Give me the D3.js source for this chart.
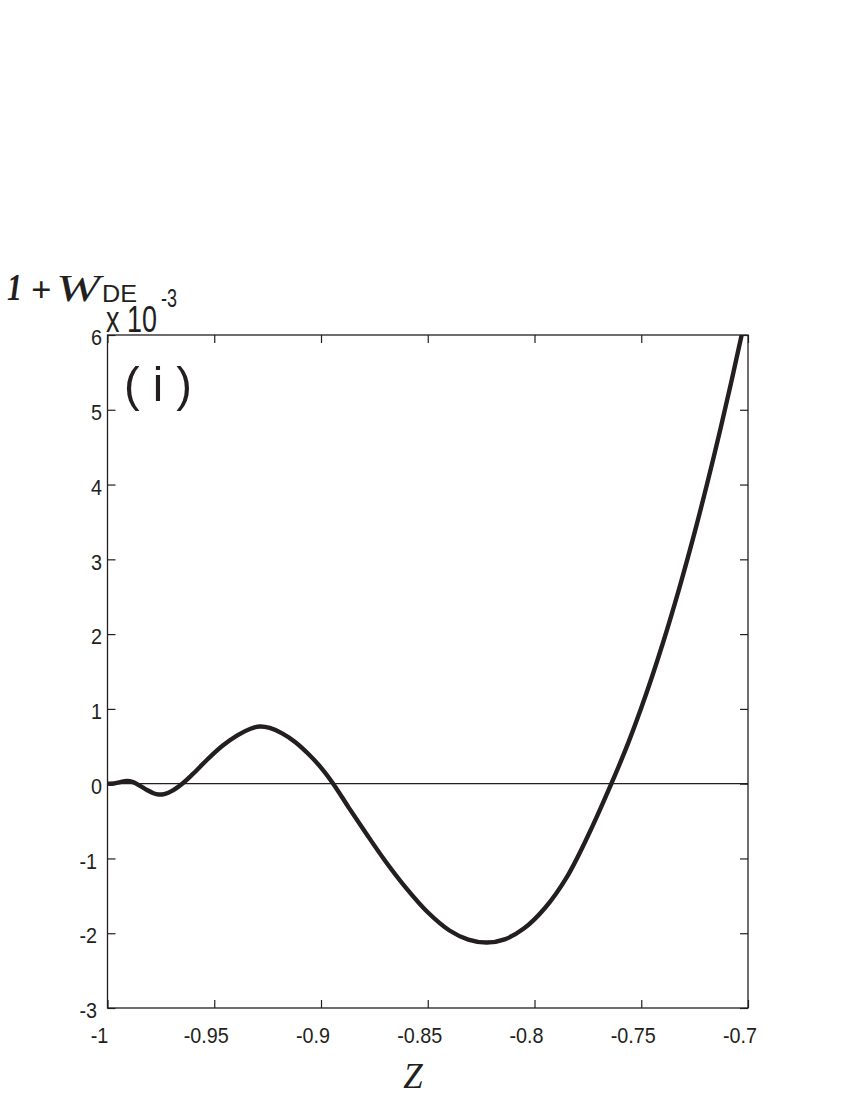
<!DOCTYPE html>
<html>
<head>
<meta charset="utf-8">
<script src="https://cdn.jsdelivr.net/npm/d3@7"></script>
<style>
  html, body { margin: 0; padding: 0; background: #fff; }
  svg { display: block; }
</style>
</head>
<body>
<svg id="chart" width="850" height="1100"></svg>
<script>
// ---- data ----
const zValues = [-1.000, -0.9970, -0.9940, -0.9910, -0.9880, -0.9850, -0.9815, -0.9785, -0.9760,
  -0.9730, -0.9700, -0.9650, -0.9600, -0.9530, -0.9460, -0.9390, -0.9330, -0.9286, -0.9240,
  -0.9180, -0.9120, -0.9060, -0.9000, -0.8943, -0.8870, -0.8790, -0.8700, -0.8600, -0.8500,
  -0.8400, -0.8310, -0.8223, -0.8140, -0.8050, -0.7950, -0.7850, -0.7750, -0.7640, -0.7560,
  -0.7480, -0.7400, -0.7320, -0.7240, -0.7160, -0.7080, -0.7030, -0.7015];
const wValues = [0.000, 0.002, 0.020, 0.036, 0.020, -0.025, -0.085, -0.128, -0.145,
  -0.135, -0.100, 0.000, 0.130, 0.330, 0.510, 0.650, 0.735, 0.765, 0.745,
  0.670, 0.555, 0.400, 0.215, 0.000, -0.320, -0.660, -1.030, -1.400, -1.720,
  -1.960, -2.085, -2.125, -2.082, -1.938, -1.659, -1.256, -0.700, 0.000, 0.552,
  1.175, 1.868, 2.633, 3.468, 4.374, 5.351, 5.997, 6.196];
const xTicks = [-1, -0.95, -0.9, -0.85, -0.8, -0.75, -0.7];
const xTickLabels = ["-1", "-0.95", "-0.9", "-0.85", "-0.8", "-0.75", "-0.7"];
const yTicks = [-3, -2, -1, 0, 1, 2, 3, 4, 5, 6];
const yTickLabels = ["-3", "-2", "-1", "0", "1", "2", "3", "4", "5", "6"];
const panelLabel = "( i )";
const xLabel = "Z";
const exponentLabel = "-3";

// ---- layout ----
const pLeft = 107.5, pRight = 748, pTop = 335, pBottom = 1008;
const ink = "#231f20";

const svg = d3.select("#chart");
const x = d3.scaleLinear().domain([-1, -0.7]).range([pLeft, pRight]);
const y = d3.scaleLinear().domain([-3, 6]).range([pBottom, pTop]);

const tickFont = "'Liberation Sans', Arial, Helvetica, sans-serif";

// clip
svg.append("defs").append("clipPath").attr("id", "clip")
  .append("rect").attr("x", pLeft).attr("y", pTop).attr("width", pRight - pLeft).attr("height", pBottom - pTop);

// zero line
svg.append("line")
  .attr("x1", pLeft).attr("x2", pRight)
  .attr("y1", y(0)).attr("y2", y(0))
  .attr("stroke", ink).attr("stroke-width", 1.1);

// curve
const data = zValues.map((z, i) => ({ z: z, w: wValues[i] }));
const line = d3.line().x(d => x(d.z)).y(d => y(d.w)).curve(d3.curveCatmullRom.alpha(0.5));
svg.append("path")
  .datum(data)
  .attr("clip-path", "url(#clip)")
  .attr("d", line)
  .attr("fill", "none")
  .attr("stroke", ink)
  .attr("stroke-width", 4.4)
  .attr("stroke-linejoin", "round")
  .attr("stroke-linecap", "round");

// axes
function styleAxis(g, hideLabels) {
  g.select(".domain").remove();
  g.selectAll(".tick line").attr("stroke", ink).attr("stroke-width", 1.2);
  if (hideLabels) g.selectAll(".tick text").remove();
}

const gx = svg.append("g").attr("transform", `translate(0,${pBottom})`)
  .call(d3.axisBottom(x).tickValues(xTicks)
    .tickFormat((d, i) => xTickLabels[i]).tickSizeInner(-8).tickSizeOuter(0).tickPadding(19));
styleAxis(gx, false);
gx.selectAll(".tick text")
  .attr("font-family", tickFont).attr("font-size", 22).attr("fill", ink)
  .attr("transform", "translate(-8.5,0) scale(0.9,1)");

const gy = svg.append("g").attr("transform", `translate(${pLeft},0)`)
  .call(d3.axisLeft(y).tickValues(yTicks)
    .tickFormat((d, i) => yTickLabels[i]).tickSizeInner(-8).tickSizeOuter(0).tickPadding(6));
styleAxis(gy, false);
gy.selectAll(".tick text")
  .attr("font-family", tickFont).attr("font-size", 22).attr("fill", ink)
  .attr("dy", "0.44em")
  .attr("transform", d => d < 0 ? "translate(-5,0) scale(0.9,1)" : "scale(0.9,1)");

const gt = svg.append("g").attr("transform", `translate(0,${pTop})`)
  .call(d3.axisTop(x).tickValues(xTicks).tickSizeInner(-8).tickSizeOuter(0));
styleAxis(gt, true);

const gr = svg.append("g").attr("transform", `translate(${pRight},0)`)
  .call(d3.axisRight(y).tickValues(yTicks).tickSizeInner(-8).tickSizeOuter(0));
styleAxis(gr, true);

// box
svg.append("rect")
  .attr("x", pLeft).attr("y", pTop)
  .attr("width", pRight - pLeft).attr("height", pBottom - pTop)
  .attr("fill", "none").attr("stroke", ink).attr("stroke-width", 1.3);

// exponent "x 10^-3"
svg.append("text")
  .attr("x", 106).attr("y", 332)
  .attr("font-family", tickFont).attr("font-size", 36).attr("fill", ink)
  .attr("textLength", 51).attr("lengthAdjust", "spacingAndGlyphs")
  .text("x 10");
svg.append("text")
  .attr("x", 161).attr("y", 307)
  .attr("font-family", tickFont).attr("font-size", 25).attr("fill", ink)
  .attr("textLength", 16).attr("lengthAdjust", "spacingAndGlyphs")
  .text(exponentLabel);

// y-axis title "1 + w_DE"
const serif = "'Liberation Serif', 'Times New Roman', serif";
svg.append("text")
  .attr("x", 7).attr("y", 300)
  .attr("font-family", serif).attr("font-style", "italic").attr("font-weight", "bold")
  .attr("font-size", 37).attr("fill", ink)
  .attr("textLength", 15).attr("lengthAdjust", "spacingAndGlyphs")
  .text("1");
svg.append("text")
  .attr("x", 31).attr("y", 302)
  .attr("font-family", serif).attr("font-weight", "bold")
  .attr("font-size", 36).attr("fill", ink)
  .text("+");
svg.append("text")
  .attr("x", 56).attr("y", 301)
  .attr("font-family", serif).attr("font-style", "italic")
  .attr("font-size", 38).attr("fill", ink)
  .attr("textLength", 44).attr("lengthAdjust", "spacingAndGlyphs")
  .text("W");
svg.append("text")
  .attr("x", 102).attr("y", 302)
  .attr("font-family", tickFont).attr("font-size", 24).attr("fill", ink)
  .attr("textLength", 35).attr("lengthAdjust", "spacingAndGlyphs")
  .text("DE");

// panel label
svg.append("text")
  .attr("x", 124).attr("y", 401)
  .attr("font-family", tickFont).attr("font-size", 49).attr("fill", ink)
  .attr("textLength", 68).attr("lengthAdjust", "spacingAndGlyphs")
  .text(panelLabel);

// x-axis title
svg.append("text")
  .attr("x", 413).attr("y", 1088)
  .attr("text-anchor", "middle")
  .attr("font-family", serif).attr("font-style", "italic")
  .attr("font-size", 35).attr("fill", ink)
  .text(xLabel);
</script>
</body>
</html>
